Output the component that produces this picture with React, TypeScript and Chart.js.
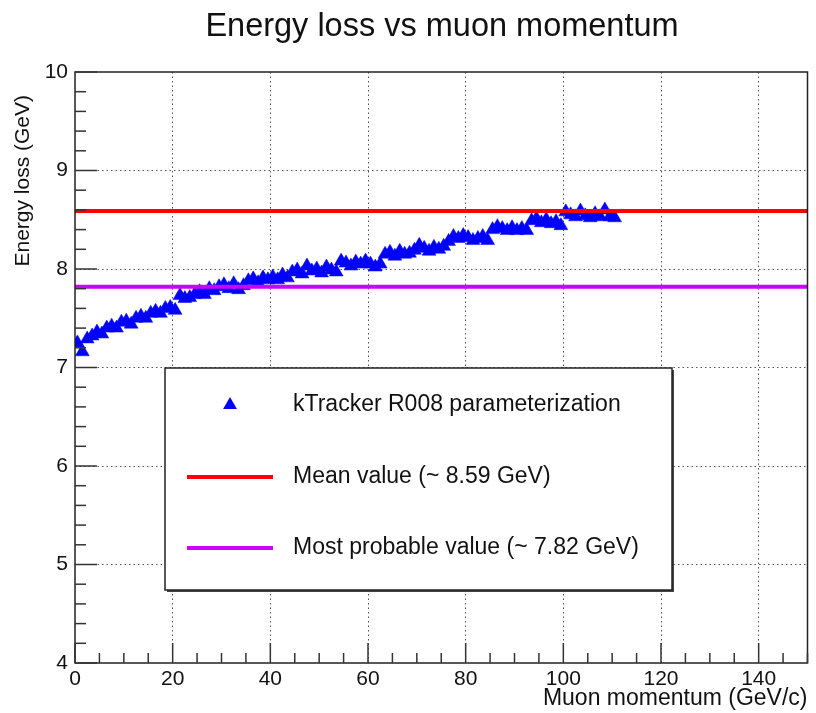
import React, { useEffect, useRef } from "react";
import { Chart, registerables } from "chart.js";

Chart.register(...registerables);

// ---------- data ----------
const momentum = [
  0.5, 1.5, 2.5, 3.5, 4.5, 5.5, 6.5, 7.5, 8.5, 9.5,
  10.5, 11.5, 12.5, 13.5, 14.5, 15.5, 16.5, 17.5, 18.5, 19.5,
  20.5, 21.5, 22.5, 23.5, 24.5, 25.5, 26.5, 27.5, 28.5, 29.5,
  30.5, 31.5, 32.5, 33.5, 34.5, 35.5, 36.5, 37.5, 38.5, 39.5,
  40.5, 41.5, 42.5, 43.5, 44.5, 45.5, 46.5, 47.5, 48.5, 49.5,
  50.5, 51.5, 52.5, 53.5, 54.5, 55.5, 56.5, 57.5, 58.5, 59.5,
  60.5, 61.5, 62.5, 63.5, 64.5, 65.5, 66.5, 67.5, 68.5, 69.5,
  70.5, 71.5, 72.5, 73.5, 74.5, 75.5, 76.5, 77.5, 78.5, 79.5,
  80.5, 81.5, 82.5, 83.5, 84.5, 85.5, 86.5, 87.5, 88.5, 89.5,
  90.5, 91.5, 92.5, 93.5, 94.5, 95.5, 96.5, 97.5, 98.5, 99.5,
  100.5, 101.5, 102.5, 103.5, 104.5, 105.5, 106.5, 107.5, 108.5, 109.5,
  110.5,
];

const energyLoss = [
  7.25, 7.16, 7.29, 7.32, 7.36, 7.34, 7.40, 7.42, 7.40, 7.46,
  7.47, 7.44, 7.50, 7.52, 7.50, 7.55, 7.57, 7.55, 7.60, 7.61,
  7.58, 7.73, 7.70, 7.71, 7.74, 7.77, 7.74, 7.80, 7.78, 7.82,
  7.84, 7.80, 7.85, 7.79, 7.83, 7.88, 7.90, 7.86, 7.91, 7.89,
  7.92, 7.89, 7.94, 7.91, 7.97, 7.99, 7.95, 8.03, 7.98, 8.00,
  7.96, 8.02, 7.99, 7.97, 8.08, 8.06, 8.03, 8.07, 8.05, 8.08,
  8.05, 8.02, 8.05, 8.15, 8.17, 8.13, 8.18, 8.15, 8.16, 8.19,
  8.24, 8.21, 8.18, 8.22, 8.20, 8.23, 8.28, 8.33, 8.31, 8.34,
  8.32, 8.29, 8.31, 8.33, 8.29, 8.40, 8.43, 8.41, 8.39, 8.42,
  8.39, 8.41, 8.39, 8.49, 8.51, 8.47, 8.50, 8.46, 8.48, 8.44,
  8.58, 8.55, 8.53, 8.59, 8.54, 8.52, 8.56, 8.53, 8.60, 8.53,
  8.52,
];

const meanValue = 8.59;
const mostProbableValue = 7.82;

const xTicks = [0, 20, 40, 60, 80, 100, 120, 140];
const yTicks = [4, 5, 6, 7, 8, 9, 10];
const xRange = [0, 150];
const yRange = [4, 10];

const chartTitle = "Energy loss vs muon momentum";
const xTitle = "Muon momentum (GeV/c)";
const yTitle = "Energy loss (GeV)";
const legendLabels = [
  "kTracker R008 parameterization",
  "Mean value (~ 8.59 GeV)",
  "Most probable value (~ 7.82 GeV)",
];

// ---------- styles ----------
const FONT = "'Liberation Sans', Arial, Helvetica, sans-serif";
const BLUE = "#0000ff";
const RED = "#ff0000";
const VIOLET = "#cc00ff";
const TEXT = "#111111";

const rootPlugin = {
  id: "rootStyle",
  afterDraw(chart: any) {
    const ctx = chart.ctx as CanvasRenderingContext2D;
    const { left, right, top, bottom } = chart.chartArea;
    const xs = chart.scales.x;
    const ys = chart.scales.y;
    ctx.save();

    // frame
    ctx.strokeStyle = "#222";
    ctx.lineWidth = 1.5;
    ctx.strokeRect(left, top, right - left, bottom - top);

    // inward ticks x
    ctx.lineWidth = 1.5;
    ctx.strokeStyle = "#333";
    for (let i = 0; i <= 30; i++) {
      const v = xRange[0] + i * 5;
      const px = xs.getPixelForValue(v);
      const major = i % 4 === 0;
      const len = major ? 20 : 10;
      ctx.beginPath();
      ctx.moveTo(px, bottom);
      ctx.lineTo(px, bottom - len);
      ctx.stroke();
    }
    // inward ticks y
    for (let i = 0; i <= 30; i++) {
      const v = yRange[0] + i * 0.2;
      const py = ys.getPixelForValue(v);
      const major = i % 5 === 0;
      const len = major ? 22 : 11;
      ctx.beginPath();
      ctx.moveTo(left, py);
      ctx.lineTo(left + len, py);
      ctx.stroke();
    }

    // title
    ctx.fillStyle = TEXT;
    ctx.font = `32.5px ${FONT}`;
    ctx.textAlign = "center";
    ctx.textBaseline = "middle";
    ctx.fillText(chartTitle, 442, 27);

    // axis titles
    ctx.font = `23px ${FONT}`;
    ctx.textAlign = "right";
    ctx.textBaseline = "middle";
    ctx.fillText(xTitle, right, 699);

    ctx.save();
    ctx.translate(23, 95);
    ctx.rotate(-Math.PI / 2);
    ctx.textAlign = "right";
    ctx.textBaseline = "middle";
    ctx.font = `21px ${FONT}`;
    ctx.fillText(yTitle, 0, 0);
    ctx.restore();

    // legend box
    const bx = 165, by = 368, bw = 507, bh = 222;
    ctx.fillStyle = "#ffffff";
    ctx.fillRect(bx, by, bw, bh);
    ctx.fillStyle = "#444";
    ctx.fillRect(bx + bw, by + 2, 2, bh);
    ctx.fillRect(bx + 2, by + bh, bw, 2);
    ctx.strokeStyle = "#222";
    ctx.lineWidth = 1.5;
    ctx.strokeRect(bx, by, bw, bh);

    const rows = [405, 477, 548];
    // triangle marker
    const r = 8;
    const cx = 230, cy = rows[0];
    ctx.fillStyle = BLUE;
    ctx.beginPath();
    ctx.moveTo(cx, cy - r);
    ctx.lineTo(cx + r * 0.866, cy + r / 2);
    ctx.lineTo(cx - r * 0.866, cy + r / 2);
    ctx.closePath();
    ctx.fill();
    // lines
    ctx.lineWidth = 4;
    ctx.strokeStyle = RED;
    ctx.beginPath();
    ctx.moveTo(187, rows[1]);
    ctx.lineTo(273, rows[1]);
    ctx.stroke();
    ctx.strokeStyle = VIOLET;
    ctx.beginPath();
    ctx.moveTo(187, rows[2]);
    ctx.lineTo(273, rows[2]);
    ctx.stroke();

    ctx.fillStyle = TEXT;
    ctx.font = `23px ${FONT}`;
    ctx.textAlign = "left";
    ctx.textBaseline = "middle";
    legendLabels.forEach((t, i) => ctx.fillText(t, 293, rows[i]));

    ctx.restore();
  },
};

export default function App() {
  const ref = useRef<HTMLCanvasElement | null>(null);

  useEffect(() => {
    if (!ref.current) return;
    const points = momentum.map((x, i) => ({ x, y: energyLoss[i] }));
    const chart = new Chart(ref.current, {
      type: "scatter",
      data: {
        datasets: [
          {
            label: legendLabels[1],
            type: "line",
            data: [
              { x: xRange[0], y: meanValue },
              { x: xRange[1], y: meanValue },
            ],
            borderColor: RED,
            borderWidth: 4,
            pointRadius: 0,
            showLine: true,
            order: 0,
          },
          {
            label: legendLabels[2],
            type: "line",
            data: [
              { x: xRange[0], y: mostProbableValue },
              { x: xRange[1], y: mostProbableValue },
            ],
            borderColor: VIOLET,
            borderWidth: 4,
            pointRadius: 0,
            showLine: true,
            order: 0,
          },
          {
            label: legendLabels[0],
            data: points,
            pointStyle: "triangle",
            pointRadius: 8,
            pointBackgroundColor: BLUE,
            pointBorderColor: BLUE,
            pointBorderWidth: 0.5,
            order: 1,
          },
        ],
      } as any,
      options: {
        responsive: false,
        animation: false,
        layout: { padding: { left: 0, right: 7, top: 72, bottom: 0 } },
        plugins: {
          legend: { display: false },
          tooltip: { enabled: false },
          title: { display: false },
        },
        scales: {
          x: {
            type: "linear",
            min: xRange[0],
            max: xRange[1],
            afterBuildTicks: (s: any) => {
              s.ticks = xTicks.map((v) => ({ value: v }));
            },
            afterFit: (s: any) => {
              s.height = 50;
            },
            grid: {
              color: (c: any) =>
                c.tick && c.tick.value > xRange[0] ? "#555" : "rgba(0,0,0,0)",
              lineWidth: 1,
              drawTicks: false,
            },
            border: { display: false, dash: [1.5, 3] },
            ticks: {
              color: TEXT,
              font: { family: FONT, size: 21 },
              padding: 4,
              maxRotation: 0,
              autoSkip: false,
            },
          },
          y: {
            type: "linear",
            min: yRange[0],
            max: yRange[1],
            afterBuildTicks: (s: any) => {
              s.ticks = yTicks.map((v) => ({ value: v }));
            },
            afterFit: (s: any) => {
              s.width = 75;
            },
            grid: {
              color: (c: any) =>
                c.tick && c.tick.value > yRange[0] && c.tick.value < yRange[1]
                  ? "#555"
                  : "rgba(0,0,0,0)",
              lineWidth: 1,
              drawTicks: false,
            },
            border: { display: false, dash: [1.5, 3] },
            ticks: {
              color: TEXT,
              font: { family: FONT, size: 21 },
              padding: 7,
              autoSkip: false,
            },
          },
        },
      } as any,
      plugins: [rootPlugin],
    });
    return () => chart.destroy();
  }, []);

  return (
    <div style={{ position: "absolute", left: 0, top: 0, width: 816, height: 713, background: "#fff" }}>
      <canvas ref={ref} width={816} height={713} style={{ display: "block" }} />
    </div>
  );
}
